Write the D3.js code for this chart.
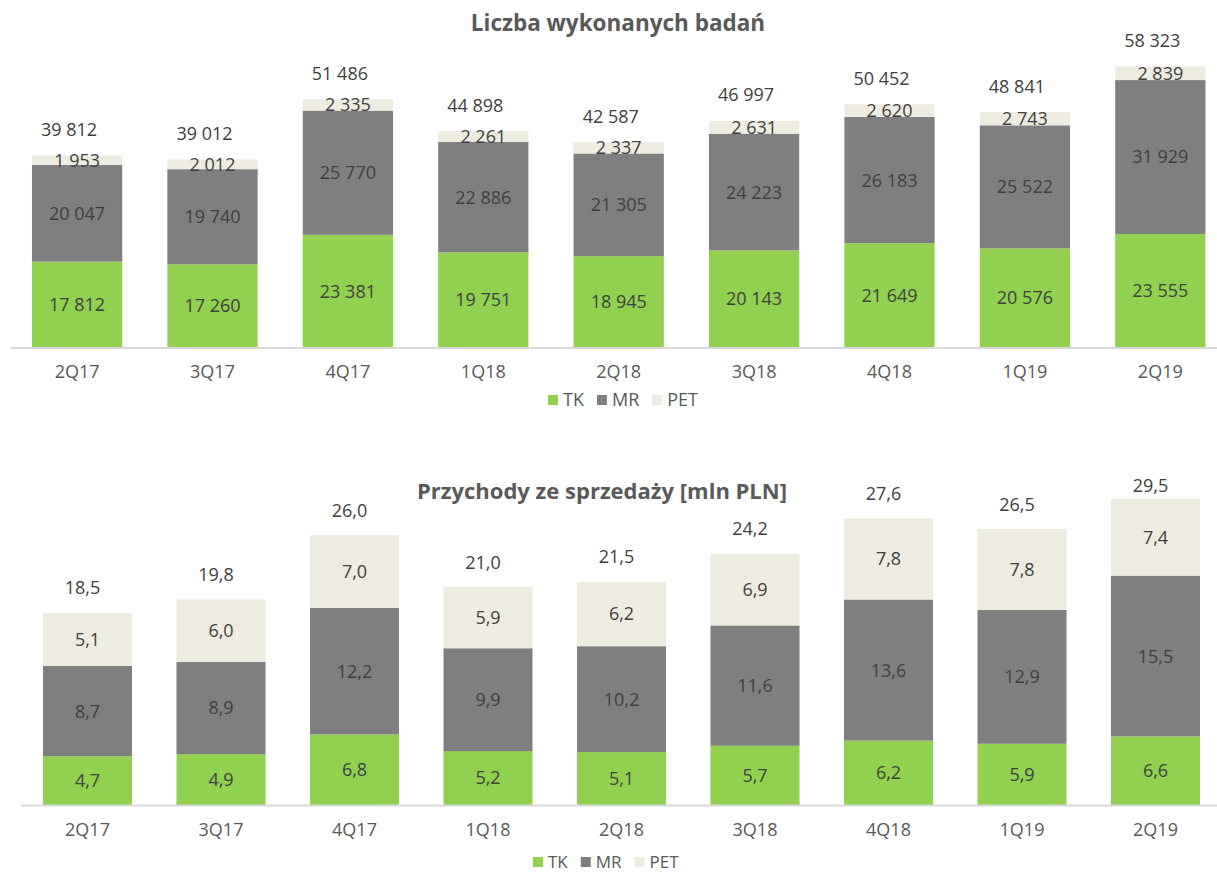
<!DOCTYPE html>
<html><head><meta charset="utf-8">
<script src="https://cdn.jsdelivr.net/npm/d3@7"></script>
<style>
html,body{margin:0;padding:0;background:#fff;}
svg{display:block;font-family:"Open Sans","Noto Sans",sans-serif;}
</style></head>
<body>
<svg id="chart" width="1217" height="873"></svg>
<script>
// ---- data ----
const categories = ["2Q17","3Q17","4Q17","1Q18","2Q18","3Q18","4Q18","1Q19","2Q19"];
const seriesNames = ["TK","MR","PET"];
const countTK  = [17812,17260,23381,19751,18945,20143,21649,20576,23555];
const countMR  = [20047,19740,25770,22886,21305,24223,26183,25522,31929];
const countPET = [1953,2012,2335,2261,2337,2631,2620,2743,2839];
const countTotal = [39812,39012,51486,44898,42587,46997,50452,48841,58323];
const revTK  = [4.7,4.9,6.8,5.2,5.1,5.7,6.2,5.9,6.6];
const revMR  = [8.7,8.9,12.2,9.9,10.2,11.6,13.6,12.9,15.5];
const revPET = [5.1,6.0,7.0,5.9,6.2,6.9,7.8,7.8,7.4];
const revTotal = [18.5,19.8,26.0,21.0,21.5,24.2,27.6,26.5,29.5];
const titleCounts = "Liczba wykonanych badań";
const titleRevenue = "Przychody ze sprzedaży [mln PLN]";

// ---- style ----
const colors = {TK:"#92D050", MR:"#7F7F7F", PET:"#EEECE1"};
const locale = d3.formatLocale({decimal:",", thousands:"\u00a0", grouping:[3], currency:["","zł"]});
const fmtInt = locale.format(",d");
const fmtDec = locale.format(".1f");

const svg = d3.select("#chart");

function drawChart(cfg){
  const g = svg.append("g");
  const rows = categories.map((c,i)=>({cat:c, TK:cfg.tk[i], MR:cfg.mr[i], PET:cfg.pet[i], total:cfg.total[i]}));
  const x = d3.scaleBand().domain(categories).range(cfg.xRange).paddingInner(1/3).paddingOuter(1/6);
  const y = d3.scaleLinear().domain(cfg.yDomain).range(cfg.yRange);
  const stack = d3.stack().keys(seriesNames)(rows);

  // title
  g.append("text").attr("x",cfg.titleX).attr("y",cfg.titleY)
    .attr("text-anchor","middle").attr("font-weight","bold")
    .attr("font-size",cfg.titleSize).attr("fill","#595959").text(cfg.title);

  // bars
  const layers = g.selectAll("g.layer").data(stack).join("g").attr("class","layer")
    .attr("fill",d=>colors[d.key]);
  layers.selectAll("rect").data(d=>d).join("rect")
    .attr("x",d=>x(d.data.cat)).attr("width",x.bandwidth())
    .attr("y",d=>y(d[1])).attr("height",d=>y(d[0])-y(d[1]));

  // segment labels
  layers.selectAll("text").data(d=>d).join("text")
    .attr("x",d=>x(d.data.cat)+x.bandwidth()/2)
    .attr("y",d=>(y(d[0])+y(d[1]))/2)
    .attr("dy","0.36em")
    .attr("text-anchor","middle").attr("font-size",cfg.labelSize).attr("fill","#404040")
    .text(d=>cfg.fmt(+(d[1]-d[0]).toFixed(1)));

  // total labels
  g.selectAll("text.total").data(rows).join("text").attr("class","total")
    .attr("x",d=>x(d.cat)+x.bandwidth()/2+cfg.totalDx)
    .attr("y",d=>Math.max(y(d.total)-cfg.totalGap, cfg.totalMinY))
    .attr("dy","0.36em")
    .attr("text-anchor","middle").attr("font-size",cfg.labelSize).attr("fill","#404040")
    .text(d=>cfg.fmt(d.total));

  // axis
  const axis = g.append("g").attr("transform",`translate(0,${cfg.yRange[0]})`)
    .call(d3.axisBottom(x).tickSize(0).tickPadding(18).tickSizeOuter(0));
  axis.select(".domain").attr("stroke","#D9D9D9").attr("stroke-width",2);
  axis.selectAll(".tick text").attr("font-size",cfg.catSize).attr("fill","#595959")
    .attr("font-family","'Open Sans','Noto Sans',sans-serif");

  // legend
  const leg = g.append("g").attr("transform",`translate(${cfg.legendX},${cfg.legendY})`);
  let lx = 0;
  seriesNames.forEach(k=>{
    leg.append("rect").attr("x",lx).attr("y",-5).attr("width",10).attr("height",10).attr("fill",colors[k]);
    const t = leg.append("text").attr("x",lx+15).attr("y",0).attr("dy","0.36em")
      .attr("font-size",cfg.legendSize).attr("fill","#595959").text(k);
    lx += 15 + t.node().getComputedTextLength() + 13;
  });
}

drawChart({
  title:titleCounts, titleX:618, titleY:31, titleSize:22.5,
  tk:countTK, mr:countMR, pet:countPET, total:countTotal,
  xRange:[9.4,1228], yDomain:[0,60000], yRange:[347.5,58.3],
  fmt:fmtInt, labelSize:18, catSize:18, legendSize:18,
  totalDx:-8, totalGap:26, totalMinY:0,
  legendX:548, legendY:400
});
drawChart({
  title:titleRevenue, titleX:602, titleY:499, titleSize:22,
  tk:revTK, mr:revMR, pet:revPET, total:revTotal,
  xRange:[20.75,1222.25], yDomain:[0,30], yRange:[805,493.6],
  fmt:fmtDec, labelSize:18, catSize:18, legendSize:17,
  totalDx:-5, totalGap:25, totalMinY:486,
  legendX:533, legendY:862
});
</script>
</body></html>
